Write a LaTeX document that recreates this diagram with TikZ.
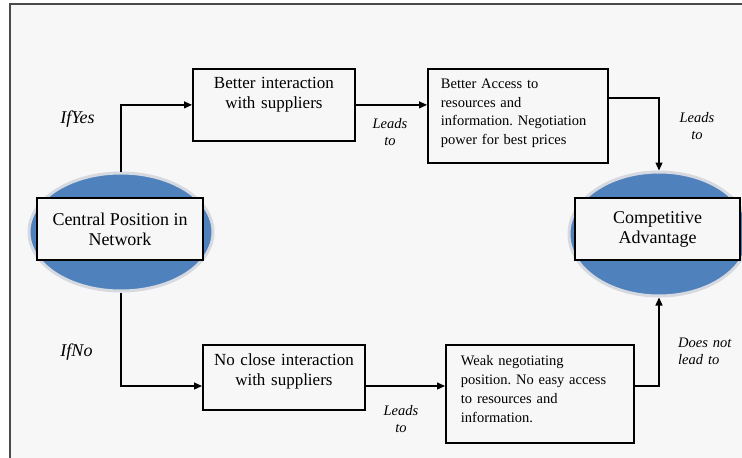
\documentclass[tikz,border=0pt]{standalone}
\usepackage{fontspec}
\setmainfont{Liberation Serif}
\frenchspacing
\usetikzlibrary{positioning,arrows.meta,shapes.geometric}
\definecolor{pagebg}{HTML}{F7F7F7}
\definecolor{frameline}{HTML}{4A4A4A}
\definecolor{ovalblue}{HTML}{4F81BD}
\definecolor{ovalrim}{HTML}{D6DAE0}

\begin{document}
\begin{tikzpicture}[x=1pt, y=-1pt,
  box/.style={draw, line width=1.8pt, anchor=north west, inner ysep=0pt, fill=pagebg},
  oval/.style={ellipse, fill=ovalblue, draw=ovalrim, line width=3pt, inner sep=0pt},
  tag/.style={draw, line width=1.5pt, fill=pagebg, minimum height=62pt, align=center, font=\fontsize{18}{20}\selectfont},
  link/.style={line width=1.2pt, -{Triangle[length=8pt,width=7pt]}},
  note/.style={font=\fontsize{14.5}{17}\selectfont\itshape, text width=50pt, align=center, anchor=base, inner sep=0pt},
  cond/.style={font=\fontsize{18}{20}\selectfont\itshape, anchor=base, inner sep=0pt}]
\clip (0,0) rectangle (742,458);
\fill[white] (0,0) rectangle (742,458);
\draw[frameline, line width=2pt, fill=pagebg] (10,4) rectangle (770,480);
% the two ovals
\node[oval, minimum width=184pt, minimum height=118pt] (cpos) at (121,232) {};
\node[tag, minimum width=166pt] (cposbox) at (120,229) {Central Position in\\Network};
\node[oval, minimum width=180pt, minimum height=124pt] (comp) at (659,234) {};
\node[tag, minimum width=165pt] (compbox) at (657.5,229) {Competitive\\Advantage};
% upper path
\node[box, align=center, text width=154pt, inner xsep=4pt, text height=20pt, text depth=52pt, font=\fontsize{17}{20}\selectfont] (better) at (192,68) {Better interaction\\with suppliers};
\node[box, align=left, text width=154pt, inner xsep=13pt, text height=20pt, text depth=74pt, font=\fontsize{14.5}{18.5}\selectfont] (access) at (427,68) {Better Access to\\resources and\\information. Negotiation\\power for best prices};
% lower path
\node[box, align=center, text width=154pt, inner xsep=4pt, text height=21pt, text depth=44pt, font=\fontsize{17}{20}\selectfont] (noclose) at (202,344) {No close interaction\\with suppliers};
\node[box, align=left, text width=158pt, inner xsep=15pt, text height=21pt, text depth=77pt, font=\fontsize{14.5}{19}\selectfont] (weak) at (445,344) {Weak negotiating\\position. No easy access\\to resources and\\information.};
\coordinate (highrail) at ([yshift=-30pt]access.north east);
\coordinate (lowrail) at ([yshift=-42pt]noclose.north west);
\draw[link] (cpos.north) |- (better.west);
\draw[link] (better.east) -- (better.east -| access.west);
\draw[link] (highrail) -| (comp.north);
\draw[link] (cpos.south) |- (lowrail);
\draw[link] (lowrail -| noclose.east) -- (lowrail -| weak.west);
\draw[link] (lowrail -| weak.east) -| (comp.south);
% labels
\node[cond] (ifyes) at (77.5,123) {IfYes};
\node[cond] (ifno) at (76.5,356) {IfNo};
\node[note] (leads1) at (390,128) {Leads\\to};
\node[note] (leads2) at (401,415) {Leads\\to};
\node[note] (leads3) at (697,122) {Leads\\to};
\node[note, align=left, anchor=base west, text width=60pt] (nolead) at (678,347) {Does not\\lead to};
\end{tikzpicture}
\end{document}
